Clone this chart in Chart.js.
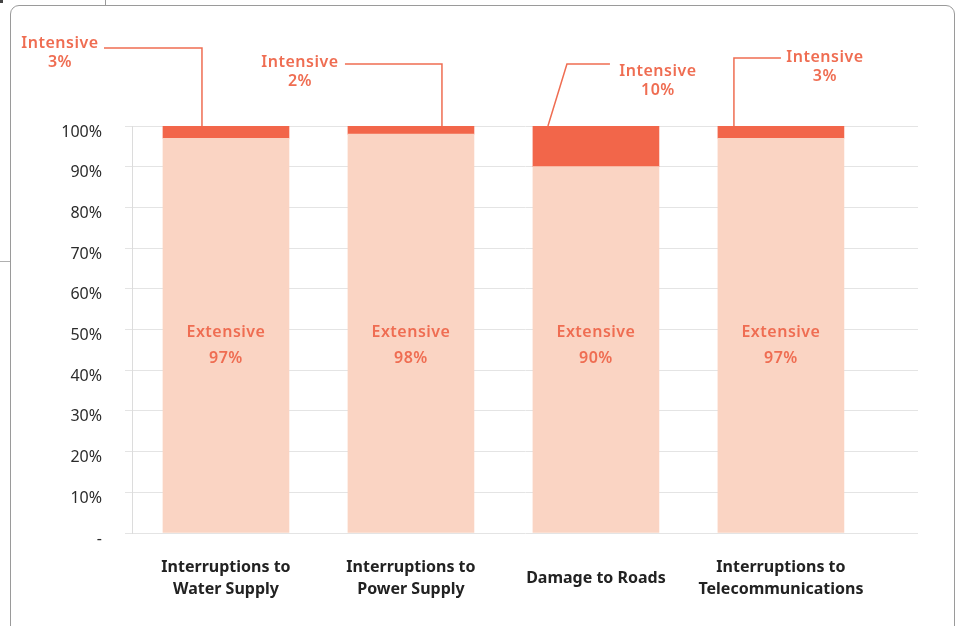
<!DOCTYPE html>
<html>
<head>
<meta charset="utf-8">
<script src="https://cdn.jsdelivr.net/npm/chart.js@4.4.1/dist/chart.umd.min.js"></script>
<style>
  html, body { margin: 0; padding: 0; background: #fff; }
  #wrap { position: relative; width: 961px; height: 626px; overflow: hidden; }
  .card { position: absolute; left: 10px; top: 5px; width: 945px; height: 640px;
          border: 1px solid #9a9a9a; border-radius: 9px; box-sizing: border-box; }
  .edge-v { position: absolute; left: 105px; top: 0; width: 1px; height: 5px; background: #9a9a9a; }
  .edge-h { position: absolute; left: 0; top: 261px; width: 10px; height: 1px; background: #b0b0b0; }
  .dot { position: absolute; left: 0; top: 0; width: 3px; height: 3px; background: #444; }
  canvas { position: absolute; left: 0; top: 0; }
</style>
</head>
<body>
<div id="wrap">
  <div class="dot"></div>
  <div class="edge-v"></div>
  <div class="edge-h"></div>
  <div class="card"></div>
  <canvas id="chart" width="961" height="626"></canvas>
</div>
<script>
// Impact categories and the share of each caused by extensive vs intensive events (%)
const categories = [
  ['Interruptions to', 'Water Supply'],
  ['Interruptions to', 'Power Supply'],
  ['Damage to Roads'],
  ['Interruptions to', 'Telecommunications']
];
const extensive = [97, 98, 90, 97];
const intensive = [3, 2, 10, 3];
const yTickValues = [0, 10, 20, 30, 40, 50, 60, 70, 80, 90, 100];

const INTENSIVE_COLOR = '#f2664a';
const EXTENSIVE_COLOR = '#fad4c3';
const LABEL_COLOR = '#ef6d52';
const FONT = '"Noto Sans", "Open Sans", sans-serif';

// Callout geometry for the "Intensive" labels: x offsets from the bar centre, absolute y
const calloutLayout = [
  { path: [[-122, 48], [-24, 48]], labelX: -166, labelY: 43 },
  { path: [[-66, 64], [31, 64]], labelX: -111, labelY: 62 },
  { path: [[14, 64], [-29, 64]], labelX: 62, labelY: 71, bottomX: -48 },
  { path: [[0, 58], [-47, 58]], labelX: 44, labelY: 57 }
];

const calloutPlugin = {
  id: 'callouts',
  afterDatasetsDraw(chart) {
    const { ctx } = chart;
    const xs = chart.scales.x, ys = chart.scales.y;
    const top = ys.getPixelForValue(100);
    ctx.save();
    ctx.textAlign = 'center';
    ctx.textBaseline = 'middle';
    if ('letterSpacing' in ctx) ctx.letterSpacing = '0.5px';
    categories.forEach((_, i) => {
      const cx = xs.getPixelForValue(i);
      // extensive share inside the bar
      const my = ys.getPixelForValue(46);
      ctx.fillStyle = LABEL_COLOR;
      ctx.font = '600 16px ' + FONT;
      ctx.fillText('Extensive', cx, my - 13);
      ctx.fillText(extensive[i] + '%', cx, my + 13);

      // intensive share above the bar with a leader line
      const c = calloutLayout[i];
      ctx.strokeStyle = LABEL_COLOR;
      ctx.lineWidth = 1.5;
      ctx.beginPath();
      c.path.forEach(([dx, y], k) => {
        if (k === 0) ctx.moveTo(cx + dx, y); else ctx.lineTo(cx + dx, y);
      });
      const last = c.path[c.path.length - 1];
      const bx = c.bottomX !== undefined ? c.bottomX : last[0];
      ctx.lineTo(cx + bx, top);
      ctx.stroke();
      ctx.fillText('Intensive', cx + c.labelX, c.labelY);
      ctx.fillText(intensive[i] + '%', cx + c.labelX, c.labelY + 19);
    });
    ctx.restore();
  }
};

new Chart(document.getElementById('chart'), {
  type: 'bar',
  data: {
    datasets: [
      {
        label: 'Extensive',
        data: extensive.map((v, i) => ({ x: i, y: v })),
        backgroundColor: EXTENSIVE_COLOR,
        barThickness: 126
      },
      {
        label: 'Intensive',
        data: intensive.map((v, i) => ({ x: i, y: v })),
        backgroundColor: INTENSIVE_COLOR,
        barThickness: 126
      }
    ]
  },
  options: {
    responsive: false,
    animation: false,
    layout: { padding: { top: 126, right: 43, bottom: 0, left: 0 } },
    plugins: {
      legend: { display: false },
      tooltip: { enabled: false }
    },
    scales: {
      x: {
        type: 'linear',
        stacked: true,
        offset: false,
        min: -0.508,
        max: 3.741,
        grid: { display: false, offset: false },
        border: { display: false },
        afterBuildTicks(scale) {
          scale.ticks = categories.map((_, i) => ({ value: i }));
        },
        afterFit(scale) { scale.height = 93; },
        ticks: {
          autoSkip: false,
          maxRotation: 0,
          padding: 26,
          crossAlign: 'center',
          color: '#222',
          font: { family: FONT, size: 16, weight: 'bold', lineHeight: 1.4 },
          callback: (v) => categories[v]
        }
      },
      y: {
        stacked: true,
        min: 0,
        max: 100,
        afterBuildTicks(scale) {
          scale.ticks = yTickValues.map(v => ({ value: v }));
        },
        afterFit(scale) { scale.width = 132; },
        grid: { color: '#e4e4e4', lineWidth: 1, tickLength: 7, drawTicks: true },
        border: { display: true, color: '#dcdcdc' },
        ticks: {
          padding: 23,
          labelOffset: 6,
          color: '#2b2b2b',
          font: { family: FONT, size: 16 },
          callback: (v) => v === 0 ? '-' : v + '%'
        }
      }
    }
  },
  plugins: [calloutPlugin]
});
</script>
</body>
</html>
